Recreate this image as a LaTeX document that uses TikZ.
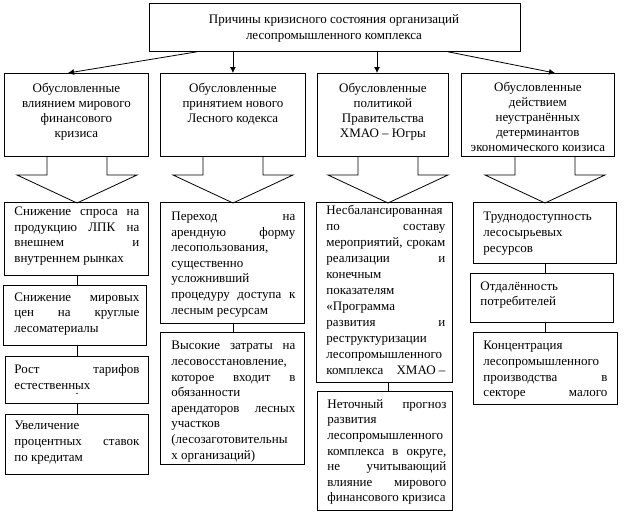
\documentclass[tikz,border=0pt]{standalone}
\usepackage{fontspec}
\setmainfont{Liberation Serif}
\usetikzlibrary{arrows.meta}
\begin{document}
\begin{tikzpicture}[x=1pt,y=-1pt,>={Latex[length=6pt,width=6pt]},line width=.8pt,
    font=\fontsize{13}{15.6}\selectfont,
    box/.style={draw,anchor=north west,inner sep=0pt},
    txt/.style={anchor=north west,inner sep=0pt,align=justify},
    head/.style={anchor=north,inner sep=0pt,align=center,font=\fontsize{13}{15}\selectfont}]
    \useasboundingbox (0,0) rectangle (624,514);
    % top box
    \node[box,minimum width=371pt,minimum height=48pt] (top) at (149,3) {};
    \node[head,anchor=center,font=\fontsize{13}{16}\selectfont] (top-t) at (334,28) {Причины кризисного состояния организаций\\лесопромышленного комплекса};
    % first row
    \node[box,minimum width=144pt,minimum height=83pt] (r1) at (4,73) {};
    \node[box,minimum width=145pt,minimum height=83pt] (r2) at (160,73) {};
    \node[box,minimum width=131pt,minimum height=83pt] (r3) at (317,73) {};
    \node[box,minimum width=153pt,minimum height=83pt] (r4) at (461,73) {};
    \node[head] (r1-t) at ([yshift=-10pt]r1.north) {Обусловленные\\влиянием мирового\\финансового\\кризиса};
    \node[head] (r2-t) at ([yshift=-10pt]r2.north) {Обусловленные\\принятием нового\\Лесного кодекса};
    \node[head] (r3-t) at ([yshift=-10pt]r3.north) {Обусловленные\\политикой\\Правительства\\ХМАО – Югры};
    \node[head] (r4-t) at ([yshift=-9pt]r4.north) {Обусловленные\\действием\\неустранённых\\детерминантов\\экономического коизиса};
    \coordinate (a1) at ([xshift=48pt]top.south west);
    \coordinate (a3) at ([xshift=60pt]r3.north west);
    \coordinate (a4) at ([xshift=299pt]top.south west);
    \draw[->] (a1) -- ([xshift=64pt]r1.north west);
    \draw[->] (r2.north |- top.south) -- (r2.north);
    \draw[->] (a3 |- top.south) -- (a3);
    \draw[->] (a4) -- ([xshift=94pt]r4.north west);
    % block arrows
    \coordinate (k1) at (77,203);
    \coordinate (k2) at (233,203);
    \coordinate (k3) at (388,203);
    \coordinate (k4) at (545,203);
    \foreach \k in {k1,k2,k3,k4}
        \draw (\k) ++(-30,-47) -- ++(0,19) -- ++(-30,0) -- (\k) -- ++(60,-28) -- ++(-30,0) -- ++(0,-19);
    % column 1
    \node[box,minimum width=144pt,minimum height=73pt] (c1a) at (4,202) {};
    \node[box,minimum width=143pt,minimum height=60pt] (c1b) at (3,285) {};
    \node[box,minimum width=143pt,minimum height=47pt] (c1c) at (5,356) {};
    \node[box,minimum width=143pt,minimum height=60pt] (c1d) at (5,414) {};
    \node[txt,text width=125pt] (c1a-t) at ([shift={(10pt,-4.5pt)}]c1a.north west) {Снижение спроса на\linebreak продукцию ЛПК на\linebreak внешнем и\linebreak внутреннем рынках};
    \node[txt,text width=125pt] (c1b-t) at ([shift={(11pt,-7pt)}]c1b.north west) {Снижение мировых\linebreak цен на круглые\linebreak лесоматериалы};
    \node[txt,text width=125pt] (c1c-t) at ([shift={(9pt,-8pt)}]c1c.north west) {Рост тарифов\linebreak естественных};
    \node[inner sep=0pt,anchor=north,font=\small] (c1c-m) at (77,392.5) {˘};
    \node[txt,text width=125pt] (c1d-t) at ([shift={(9pt,-7pt)}]c1d.north west) {Увеличение\newline процентных ставок\linebreak по кредитам};
    \draw (k1 |- c1a.south) -- (k1 |- c1b.north);
    \draw (k1 |- c1b.south) -- (k1 |- c1c.north);
    \draw (k1 |- c1c.south) -- (k1 |- c1d.north);
    % column 2
    \node[box,minimum width=144pt,minimum height=121pt] (c2a) at (160,202) {};
    \node[box,minimum width=144pt,minimum height=132pt] (c2b) at (160,332) {};
    \node[txt,text width=124pt] (c2a-t) at ([shift={(11pt,-9.5pt)}]c2a.north west) {Переход на\linebreak арендную форму\linebreak лесопользования,\newline существенно\newline усложнивший\newline процедуру доступа к\linebreak лесным ресурсам};
    \node[txt,text width=124pt] (c2b-t) at ([shift={(11pt,-9pt)}]c2b.north west) {Высокие затраты на\linebreak лесовосстановление,\newline которое входит в\linebreak обязанности\newline арендаторов лесных\linebreak участков\newline (лесозаготовительны\newline х организаций)};
    \draw (k2 |- c2a.south) -- (k2 |- c2b.north);
    % column 3
    \node[box,minimum width=136pt,minimum height=180pt] (c3a) at (316,202) {};
    \node[box,minimum width=135pt,minimum height=119pt] (c3b) at (317,391) {};
    \node[txt,text width=119pt,font=\fontsize{13}{16}\selectfont] (c3a-t) at ([shift={(10pt,-3pt)}]c3a.north west) {Несбалансированная\newline по составу\linebreak мероприятий, срокам\linebreak реализации и\linebreak конечным\newline показателям\newline «Программа\newline развития и\linebreak реструктуризации\newline лесопромышленного\newline комплекса\hfill ХМАО~–};
    \node[txt,text width=119pt] (c3b-t) at ([shift={(10pt,-8pt)}]c3b.north west) {Неточный прогноз\linebreak развития\newline лесопромышленного\newline комплекса в округе,\linebreak не учитывающий\linebreak влияние мирового\linebreak финансового кризиса};
    \draw (k3 |- c3a.south) -- (k3 |- c3b.north);
    % column 4
    \node[box,minimum width=143pt,minimum height=61pt] (c4a) at (473,202) {};
    \node[box,minimum width=143pt,minimum height=49pt] (c4b) at (470,273) {};
    \node[box,minimum width=144pt,minimum height=72pt] (c4c) at (473,332) {};
    \node[txt,text width=124pt] (c4a-t) at ([shift={(10pt,-10pt)}]c4a.north west) {Труднодоступность\newline лесосырьевых\newline ресурсов};
    \node[txt,text width=124pt] (c4b-t) at ([shift={(10pt,-8pt)}]c4b.north west) {Отдалённость\newline потребителей};
    \node[txt,text width=124pt] (c4c-t) at ([shift={(10pt,-9pt)}]c4c.north west) {Концентрация\newline лесопромышленного\newline производства в\linebreak секторе\hfill малого};
    \draw (k4 |- c4a.south) -- (k4 |- c4b.north);
    \draw (k4 |- c4b.south) -- (k4 |- c4c.north);
\end{tikzpicture}
\end{document}
